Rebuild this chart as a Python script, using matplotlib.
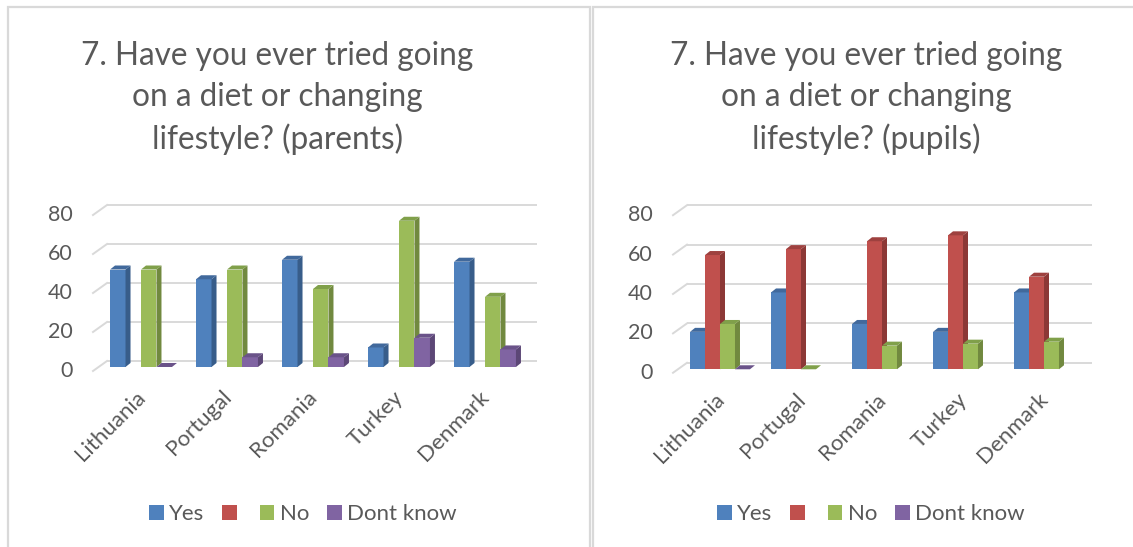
import numpy as np
import matplotlib
matplotlib.use("Agg")
import matplotlib.pyplot as plt
from matplotlib.patches import Polygon, Rectangle, Patch

countries = ["Lithuania", "Portugal", "Romania", "Turkey", "Denmark"]
series_names = ["Yes", "", "No", "Dont know"]

parents_yes = [50, 45, 55, 10, 54]
parents_blank = [np.nan, np.nan, np.nan, np.nan, np.nan]
parents_no = [50, 50, 40, 75, 36]
parents_dont_know = [0, 5, 5, 15, 9]

pupils_yes = [19, 39, 23, 19, 39]
pupils_blank = [58, 61, 65, 68, 47]
pupils_no = [23, 0, 12, 13, 14]
pupils_dont_know = [0, np.nan, np.nan, np.nan, np.nan]

y_ticks = [0, 20, 40, 60, 80]

face_colors = ["#4F81BD", "#C0504D", "#9BBB59", "#8064A2"]
side_colors = ["#385D8A", "#8C3836", "#71893F", "#5C4776"]
top_colors = ["#41699C", "#9E413F", "#80A04A", "#6A5389"]
TEXT = "#595959"
GRID = "#D9D9D9"

plt.rcParams["font.family"] = ["Lato", "DejaVu Sans"]

fig = plt.figure(figsize=(11.33, 5.47), dpi=100)


def draw_panel(rect, title, series, title_x, legend_x, back, front, width):
    ax = fig.add_axes(rect)
    ax.set_xlim(-0.65, 4.65)
    ax.set_ylim(-6, 84)
    ax.axis("off")

    # pixel -> data conversion for the fake 3D depth
    bb = ax.get_window_extent()
    sx = bb.width / 5.3
    sy = bb.height / 90.0
    bx, by = back[0] / sx, back[1] / sy
    fx, fy = front[0] / sx, front[1] / sy
    dx, dy = 5 / sx, 4 / sy

    # back wall gridlines + little floor diagonals + tick labels
    for v in y_ticks:
        ax.plot([-0.5 + bx, 4.5 + bx], [v + by, v + by], color=GRID, lw=1.4,
                zorder=1, clip_on=False, solid_capstyle="butt")
        ax.plot([-0.5 + fx, -0.5 + bx], [v + fy, v + by], color=GRID, lw=1.4,
                zorder=1, clip_on=False)
        ax.text(-0.5 + fx - 20 / sx, v + fy, str(v), ha="right", va="center",
                fontsize=15.5, color=TEXT)

    x = np.arange(len(countries))
    n = len(series)
    for k, vals in enumerate(series):
        vals = np.asarray(vals, dtype=float)
        left = x + (k - n / 2) * width
        ax.bar(left, np.nan_to_num(vals), width, align="edge",
               color=face_colors[k], zorder=2 + k, clip_on=False,
               linewidth=0)
        for xl, v in zip(left, vals):
            if np.isnan(v):
                continue
            xr = xl + width
            side = [(xr, 0), (xr + dx, dy), (xr + dx, v + dy), (xr, v)]
            top = [(xl, v), (xr, v), (xr + dx, v + dy), (xl + dx, v + dy)]
            ax.add_patch(Polygon(side, closed=True, fc=side_colors[k],
                                 ec="none", zorder=2 + k, clip_on=False))
            ax.add_patch(Polygon(top, closed=True, fc=top_colors[k],
                                 ec="none", zorder=2 + k, clip_on=False))

    for i, name in enumerate(countries):
        ax.text(i + 1 / sx, -27 / sy, name, rotation=45, ha="right",
                va="center", rotation_mode="anchor", fontsize=16, color=TEXT)

    fig.text(title_x, 1 - 98 / 547, title, ha="center", va="center",
             fontsize=22.7, color=TEXT, linespacing=1.46)

    handles = [Patch(fc=c, ec="none") for c in face_colors]
    fig.legend(handles, series_names, loc="center", ncol=4,
               bbox_to_anchor=(legend_x, 1 - 514 / 547), frameon=False,
               fontsize=16, labelcolor=TEXT, handlelength=0.65,
               handleheight=0.65, handletextpad=0.25, columnspacing=0.8)


draw_panel([85.1 / 1133, 0.3077, 455.8 / 1133, 0.3208],
           "7. Have you ever tried going\non a diet or changing\nlifestyle? (parents)",
           [parents_yes, parents_blank, parents_no, parents_dont_know],
           277 / 1133, 303 / 1133, back=(9, 6), front=(-5, -4), width=0.18)

draw_panel([667.35 / 1133, 0.3033, 429.3 / 1133, 0.3241],
           "7. Have you ever tried going\non a diet or changing\nlifestyle? (pupils)",
           [pupils_yes, pupils_blank, pupils_no, pupils_dont_know],
           866 / 1133, 871 / 1133, back=(7.5, 6.5), front=(-6.5, -3.5), width=0.185)

# panel borders
fig.add_artist(Rectangle((8 / 1133, -0.05), 582 / 1133, 1.05 - 7 / 547,
                         transform=fig.transFigure, fill=False, ec=GRID, lw=1.6))
fig.add_artist(Rectangle((593 / 1133, -0.05), 560 / 1133, 1.05 - 7 / 547,
                         transform=fig.transFigure, fill=False, ec=GRID, lw=1.6))

fig.savefig("out.png", dpi=100)
